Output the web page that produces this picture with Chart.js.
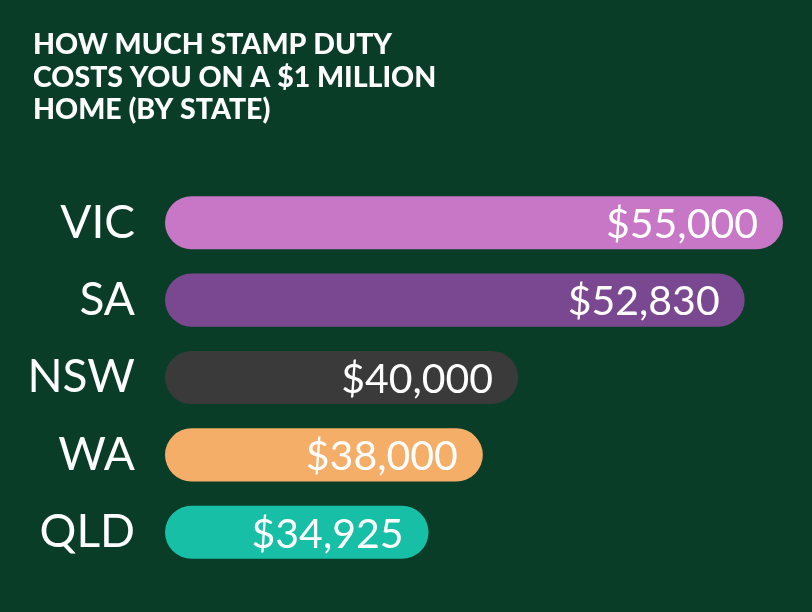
<!DOCTYPE html>
<html>
<head>
<meta charset="utf-8">
<script src="https://cdn.jsdelivr.net/npm/chart.js@4.4.0/dist/chart.umd.min.js"></script>
<style>
html,body{margin:0;padding:0;background:#0a3d28;}
#wrap{width:812px;height:612px;position:relative;}
</style>
</head>
<body>
<div id="wrap"><canvas id="c"></canvas></div>
<script>
const titleLines = ['HOW MUCH STAMP DUTY', 'COSTS YOU ON A $1 MILLION', 'HOME (BY STATE)'];
const states = ['VIC', 'SA', 'NSW', 'WA', 'QLD'];
const stampDuty = [55000, 52830, 40000, 38000, 34925];
const barColors = ['#c876c6', '#7a4890', '#3a3a3a', '#f5ae67', '#17bfa7'];
const axisStart = 20000;

const BG = '#0a3d28';

const bgPlugin = {
  id: 'bg',
  beforeDraw(chart) {
    const ctx = chart.ctx;
    ctx.save();
    ctx.fillStyle = BG;
    ctx.fillRect(0, 0, chart.width, chart.height);
    ctx.restore();
  }
};

const titlePlugin = {
  id: 'customTitle',
  afterDraw(chart) {
    const ctx = chart.ctx;
    ctx.save();
    ctx.fillStyle = '#ffffff';
    ctx.font = '900 28.5px Lato';
    ctx.textBaseline = 'alphabetic';
    ctx.textAlign = 'left';
    const baselines = [54, 87, 119];
    titleLines.forEach((t, i) => ctx.fillText(t, 33, baselines[i]));
    ctx.restore();
  }
};

const valueLabelPlugin = {
  id: 'valueLabels',
  afterDatasetsDraw(chart) {
    const ctx = chart.ctx;
    const meta = chart.getDatasetMeta(0);
    ctx.save();
    ctx.fillStyle = '#ffffff';
    ctx.font = '400 41px Lato';
    ctx.textAlign = 'right';
    ctx.textBaseline = 'middle';
    meta.data.forEach((bar, i) => {
      const label = '$' + stampDuty[i].toLocaleString('en-US');
      ctx.fillText(label, bar.x - 25, bar.y + 2);
    });
    ctx.restore();
  }
};

new Chart(document.getElementById('c'), {
  type: 'bar',
  data: {
    labels: states,
    datasets: [{
      data: stampDuty,
      base: axisStart,
      backgroundColor: barColors,
      borderRadius: 27,
      borderSkipped: false,
      categoryPercentage: 1,
      barPercentage: 0.686
    }]
  },
  options: {
    indexAxis: 'y',
    responsive: true,
    maintainAspectRatio: false,
    animation: false,
    devicePixelRatio: 1,
    layout: { padding: { top: 184, bottom: 41, left: 0, right: 29 } },
    plugins: { legend: { display: false }, tooltip: { enabled: false }, title: { display: false } },
    scales: {
      x: {
        display: false,
        min: axisStart,
        max: 55000
      },
      y: {
        grid: { display: false, drawTicks: false },
        border: { display: false },
        ticks: {
          color: '#ffffff',
          font: { family: 'Lato', size: 46, weight: '400' },
          padding: 30
        },
        afterFit(scale) {
          scale.width = 165;
          scale.paddingTop = 0;
          scale.paddingBottom = 0;
        }
      }
    }
  },
  plugins: [bgPlugin, titlePlugin, valueLabelPlugin]
});
</script>
</body>
</html>
